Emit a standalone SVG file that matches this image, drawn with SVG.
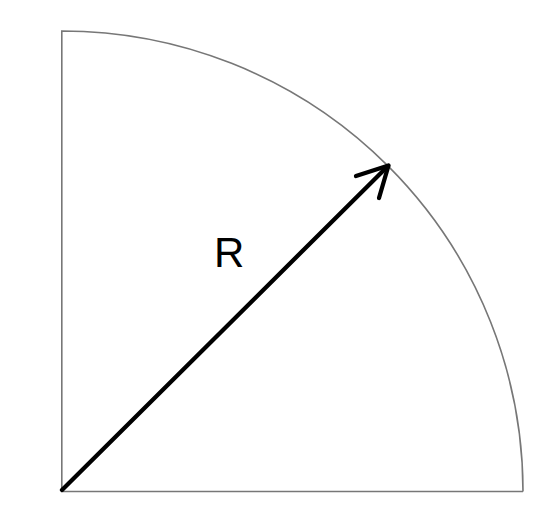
<svg xmlns="http://www.w3.org/2000/svg" width="546" height="521" viewBox="0 0 546 521">
<style>
.outline{fill:none;stroke:#777;stroke-width:1.6}
.radius{fill:none;stroke:#000;stroke-width:4.3;stroke-linecap:round;stroke-linejoin:round}
.label{font-family:"Liberation Sans",Arial,sans-serif;font-size:42px;fill:#000}
</style>
<rect width="546" height="521" fill="#fff"/>
<g id="sector">
<path class="outline" d="M523,491.5 L61.8,491.5 L61.8,31 A461.2,460.5 0 0 1 523,491.5"/>
</g>
<g id="connectors">
<line class="radius" x1="62" y1="490" x2="388" y2="166"/>
<polyline class="radius" points="356,176 388.5,165.5 379,198"/>
</g>
<g id="label">
<text class="label" x="214" y="267">R</text>
</g>
</svg>
